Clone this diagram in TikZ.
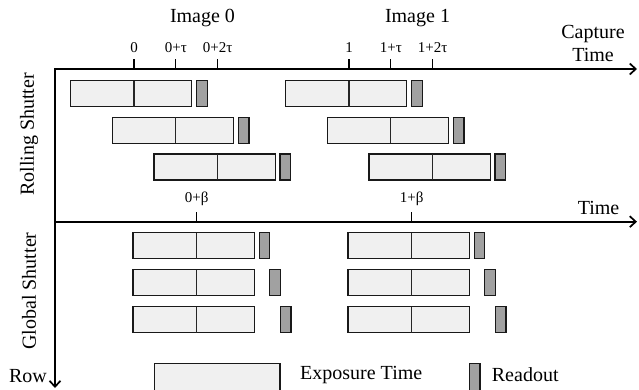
\documentclass[tikz,border=0pt]{standalone}
\usepackage{fontspec}
\setmainfont{Liberation Serif}
\usetikzlibrary{arrows.meta}
\begin{document}
\begin{tikzpicture}[x=1pt,y=-1pt,
  expo/.style={draw=black!90,line width=1.2pt,fill=black!6,minimum width=121.4pt,minimum height=26pt,inner sep=0pt,outer sep=0pt},
  rdout/.style={draw=black!90,line width=1.2pt,fill=black!37,minimum width=10.7pt,minimum height=26pt,inner sep=0pt,outer sep=0pt},
  axis/.style={line width=1.7pt,-{Straight Barb[length=6pt,width=11pt,line width=1.7pt]}},
  tickline/.style={line width=1.1pt},
  divline/.style={line width=1.1pt,draw=black!85},
  lbl/.style={font=\fontsize{20}{24}\selectfont,inner sep=0pt},
  tlbl/.style={font=\fontsize{15}{18}\selectfont,inner sep=0pt}]
\clip (0,0) rectangle (639,389);

% axes
\coordinate (O) at (55,69);
\coordinate (O2) at (55,221.7);
\coordinate (xend) at (637,69);
\coordinate (x2end) at (637,221.7);
\coordinate (yend) at (55,388);
\draw[axis] (O) -- (xend);
\draw[axis] (O2) -- (x2end);
\draw[axis] ([yshift=0.85pt]O) -- (yend);

% axis labels
\node[lbl,align=center] (capt) at (593,43) {Capture\\[-1pt]Time};
\node[lbl] (time2) at (598.5,208) {Time};
\node[lbl,rotate=90] (rolling) at (29,134.5) {Rolling Shutter};
\node[lbl,rotate=90] (global) at (29,291) {Global Shutter};
\node[lbl] (row) at (28,376) {Row};
\node[lbl] (img0) at (202.5,18) {Image 0};
\node[lbl] (img1) at (417.5,18) {Image 1};

% rolling shutter
\foreach \k in {0,1}{
  \foreach \r/\lab in {0/{},1/{+τ},2/{+2τ}}{
    \pgfmathsetmacro{\tx}{134+215*\k+41.8*\r}
    \pgfmathsetmacro{\yy}{93.7+36.65*\r}
    \coordinate (rt-\k-\r) at (\tx,69);
    \draw[tickline] (rt-\k-\r) -- ++(0,-10) coordinate (rtt-\k-\r);
    \node[tlbl] (rl-\k-\r) at (\tx,48) {\k\lab};
    \node[expo] (rb-\k-\r) at (\tx-3,\yy) {};
    \draw[divline] (rb-\k-\r.north -| rt-\k-\r) -- (rb-\k-\r.south -| rt-\k-\r);
    \node[rdout] (rr-\k-\r) at (\tx+67.8,\yy) {};
  }
}

% global shutter
\foreach \k in {0,1}{
  \pgfmathsetmacro{\tx}{196.7+215*\k}
  \coordinate (gt-\k) at (\tx,221.7);
  \draw[tickline] (gt-\k) -- ++(0,-10);
  \node[tlbl] (gl-\k) at (\tx,199) {\k+β};
  \foreach \r in {0,1,2}{
    \pgfmathsetmacro{\yy}{245.8+36.85*\r}
    \node[expo] (gb-\k-\r) at (\tx-3,\yy) {};
    \draw[divline] (gb-\k-\r.north -| gt-\k) -- (gb-\k-\r.south -| gt-\k);
    \node[rdout] (gr-\k-\r) at (\tx+67.8+10.6*\r,\yy) {};
  }
}

% legend
\node[expo,minimum width=125.7pt,minimum height=30pt,anchor=north west] (legE) at (154.3,363.3) {};
\node[lbl,anchor=west] (legEt) at (300,375) {Exposure Time};
\node[rdout,minimum height=30pt,anchor=north west] (legR) at (469.3,363.3) {};
\node[lbl,anchor=west] (legRt) at (491.7,375) {Readout};
\end{tikzpicture}
\end{document}
